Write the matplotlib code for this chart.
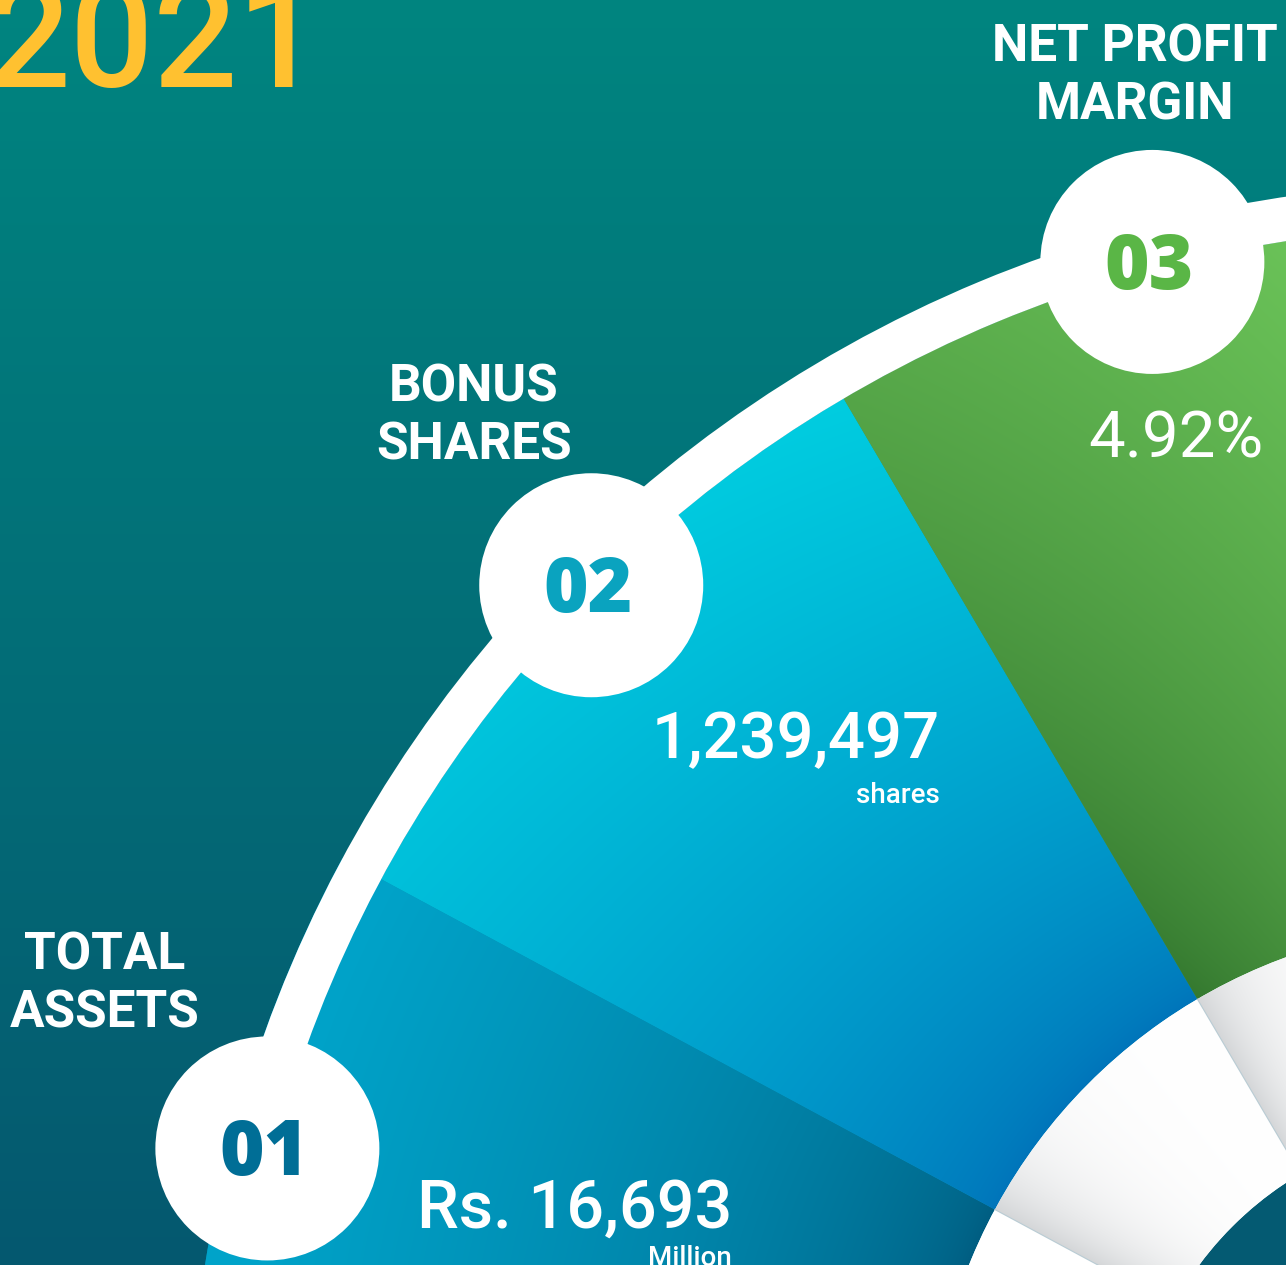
import numpy as np
import matplotlib
matplotlib.use("Agg")
import matplotlib.pyplot as plt
from matplotlib.patches import Wedge, Circle
from matplotlib.colors import to_rgb

# Chart content
year = "2021"
numbers = ["01", "02", "03"]
labels = ["TOTAL\nASSETS", "BONUS\nSHARES", "NET PROFIT\nMARGIN"]
values = ["Rs. 16,693", "1,239,497", "4.92%"]
units = ["Million", "shares", ""]

# Layout (pixel space, y grows downwards)
W, H = 1286, 1265
CX, CY = 1473, 1467          # centre of the big arc
R_MARK = 1247                # radius the numbered discs sit on
R_BAND_OUT, R_BAND_IN = 1284, 1240
R_RING_OUT, R_RING_IN = 543, 340
mark_angles = [194.8, 225.0, 255.1]
sector_edges = [170, 208.3, 239.5, 300]
num_colors = ["#006e96", "#0aa3bf", "#5ab646"]
label_pos = [(105, 970), (474, 402), (1135, 62)]
value_pos = [(732, 1228), (940, 758), (1263, 458)]
unit_pos = [(732, 1266), (940, 803), (0, 0)]
value_weight = ["medium", "medium", "normal"]
value_size = [48, 47, 47]

LABEL_FONT = ["Roboto", "DejaVu Sans"]
NUM_FONT = ["Open Sans", "Roboto", "DejaVu Sans"]
VAL_FONT = ["Roboto", "DejaVu Sans"]


def lerp(c0, c1, w):
    c0 = np.array(to_rgb(c0))
    c1 = np.array(to_rgb(c1))
    w = np.clip(w, 0, 1)[..., None]
    return c0 * (1 - w) + c1 * w


# pixel grid in polar coordinates around the arc centre
xs = np.arange(W) + 0.5
ys = np.arange(H) + 0.5
X, Y = np.meshgrid(xs, ys)
RR = np.hypot(X - CX, Y - CY)
TH = np.degrees(np.arctan2(Y - CY, X - CX)) % 360

fig = plt.figure(figsize=(W / 100, H / 100), dpi=100)
ax = fig.add_axes([0, 0, 1, 1])
ax.set_xlim(0, W)
ax.set_ylim(H, 0)
ax.axis("off")
ext = (0, W, H, 0)

# background: vertical teal gradient
bg = lerp("#008580", "#05586f", Y / H)
ax.imshow(bg, extent=ext, interpolation="bilinear", zorder=0)

# sector gradients
wr = np.clip((RR - R_RING_OUT) / (R_BAND_IN - R_RING_OUT), 0, 1)
grad01 = lerp("#005c80", "#00a3c9", wr ** 0.6)
t02 = np.clip((TH - sector_edges[1]) / (sector_edges[2] - sector_edges[1]), 0, 1)
grad02 = lerp("#0074ba", "#00cde0", (wr ** 0.7) * (0.86 + 0.14 * t02))
t03 = np.clip((TH - sector_edges[2]) / 25, 0, 1)
grad03 = lerp("#34782f", "#6dc65a", (0.5 * wr + 0.5 * t03) ** 0.8)

sectors = [
    (R_BAND_OUT, sector_edges[0], sector_edges[1], grad01, "#0088ae"),
    (R_BAND_IN, sector_edges[1], sector_edges[2], grad02, "#00a8cf"),
    (R_BAND_IN, sector_edges[2], sector_edges[3], grad03, "#55ad48"),
]
for r, t1, t2, grad, base in sectors:
    wdg = Wedge((CX, CY), r, t1, t2, width=r - R_RING_OUT,
                facecolor=base, edgecolor="none", zorder=1)
    ax.add_patch(wdg)
    im = ax.imshow(grad, extent=ext, interpolation="bilinear", zorder=2)
    im.set_clip_path(wdg)

# white inner ring with soft grey shading after each sector edge
shade = np.zeros_like(RR)
for e in sector_edges[1:3]:
    d = TH - e
    shade = np.maximum(shade, np.where(d > 0, np.exp(-d / 6.0), 0))
ring_img = lerp("#ffffff", "#d4d6d8", shade)
ring = Wedge((CX, CY), R_RING_OUT, sector_edges[0], sector_edges[3],
             width=R_RING_OUT - R_RING_IN, facecolor="white",
             edgecolor="none", zorder=3)
ax.add_patch(ring)
im = ax.imshow(ring_img, extent=ext, interpolation="bilinear", zorder=4)
im.set_clip_path(ring)
for e in sector_edges[1:3]:
    t = np.radians(e)
    ax.plot([CX + R_RING_IN * np.cos(t), CX + R_RING_OUT * np.cos(t)],
            [CY + R_RING_IN * np.sin(t), CY + R_RING_OUT * np.sin(t)],
            color="#b9ccd4", lw=0.8, zorder=5)
ax.add_patch(Circle((CX, CY), R_RING_IN, facecolor="#045a72",
                    edgecolor="none", zorder=5))

# white band along the big arc
ax.add_patch(Wedge((CX, CY), R_BAND_OUT, mark_angles[0], 300,
                   width=R_BAND_OUT - R_BAND_IN, facecolor="white",
                   edgecolor="none", zorder=6))

# numbered discs, labels and values
for i, ang in enumerate(mark_angles):
    t = np.radians(ang)
    mx = CX + R_MARK * np.cos(t)
    my = CY + R_MARK * np.sin(t)
    ax.add_patch(Circle((mx, my), 112, facecolor="white",
                        edgecolor="none", zorder=7))
    ax.text(mx - 3, my + 27, numbers[i], color=num_colors[i], fontsize=55,
            family=NUM_FONT, fontweight="heavy", ha="center", va="baseline",
            zorder=8)

    lx, ly = label_pos[i]
    lines = labels[i].split("\n")
    for k, line in enumerate(lines):
        ax.text(lx, ly + 57 * k, line, color="white", fontsize=37,
                family=LABEL_FONT, fontweight="bold", ha="center",
                va="baseline", zorder=8)

    vx, vy = value_pos[i]
    ax.text(vx, vy, values[i], color="white", fontsize=value_size[i],
            family=VAL_FONT, fontweight=value_weight[i], ha="right",
            va="baseline", zorder=8)
    if units[i]:
        ux, uy = unit_pos[i]
        ax.text(ux, uy, units[i], color="white", fontsize=20,
                family=VAL_FONT, fontweight="medium", ha="right",
                va="baseline", zorder=8)

ax.text(-14, 87, year, color="#ffc130", fontsize=106, family=VAL_FONT,
        fontweight="medium", ha="left", va="baseline", zorder=8)

fig.savefig("out.png", dpi=100)
